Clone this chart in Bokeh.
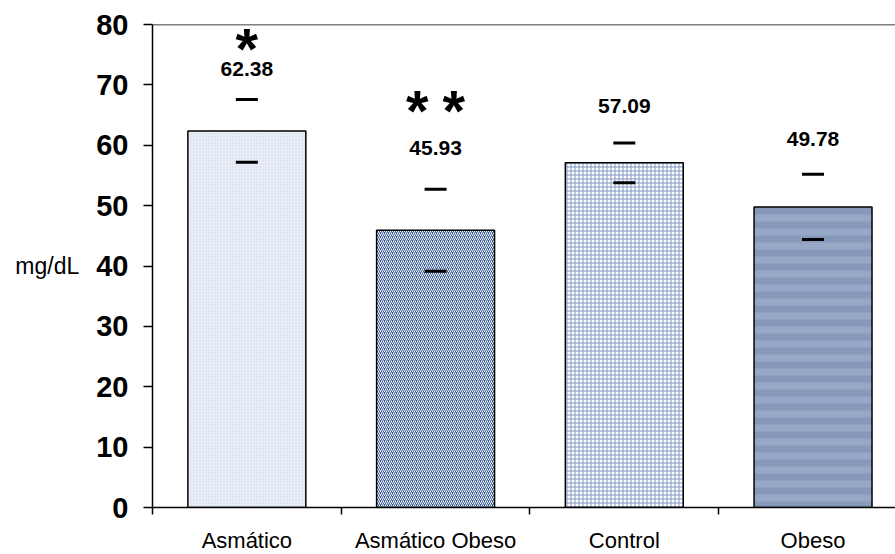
from bokeh.plotting import figure
from bokeh.models import FixedTicker, Span, Range1d, ColumnDataSource
from bokeh.embed import file_html
from bokeh.resources import INLINE
from bokeh.core.properties import value

# Mean HDL (mg/dL) per group, with standard deviation
groups = ["Asmático", "Asmático Obeso", "Control", "Obeso"]
means = [62.38, 45.93, 57.09, 49.78]
sds = [5.2, 6.8, 3.3, 5.4]
n_stars = [1, 2, 0, 0]
y_ticks = [0, 10, 20, 30, 40, 50, 60, 70, 80]

FONT = "Liberation Sans"

centers = [i + 0.5 for i in range(len(groups))]
upper = [m + s for m, s in zip(means, sds)]
lower = [m - s for m, s in zip(means, sds)]

# per-bar fill styling
bar_styles = [
    dict(fill_color="#eaeef6", hatch_pattern="dot", hatch_color="#cdd6e8", hatch_scale=3, hatch_weight=1),
    dict(fill_color="#35589a", hatch_pattern="right_diagonal_line", hatch_color="#ffffff", hatch_scale=4, hatch_weight=1),
    dict(fill_color="#ffffff", hatch_pattern="cross", hatch_color="#8097c2", hatch_scale=4, hatch_weight=1),
    dict(fill_color="#8699ba", hatch_pattern="horizontal_line", hatch_color="#97a8c6", hatch_scale=14, hatch_weight=7),
]
# label offsets above the upper error mark (px)
label_dy = [-30, -41, -37, -35]
star_dy = [-51, -79, 0, 0]
STAR_GAP = 0.097  # half-spacing between paired stars, in category units

p = figure(
    frame_width=743, frame_height=483,
    min_border_left=152, min_border_right=0, min_border_top=24, min_border_bottom=47,
    x_range=Range1d(0, 3.937), y_range=Range1d(0, 80),
    output_backend="svg", toolbar_location=None,
)
p.outline_line_color = None
p.grid.visible = False
p.background_fill_color = "white"
p.border_fill_color = "white"

for i in range(len(groups)):
    src = ColumnDataSource(dict(x=[centers[i]], top=[means[i]]))
    p.vbar(x="x", top="top", bottom=0, width=0.625, source=src,
           line_color="black", line_width=1.5, **bar_styles[i])

# error marks (mean +/- SD) drawn as short horizontal dashes
p.scatter(x=centers + centers, y=upper + lower, marker="dash", size=22,
          line_color="black", line_width=3)

# value labels
p.text(x=centers, y=upper, text=[f"{m:.2f}" for m in means], y_offset=label_dy,
       text_align="center", text_baseline="middle", text_font=value(FONT),
       text_font_style="bold", text_font_size="21px", text_color="black")

# significance marks
sx, sy, soff = [], [], []
for c, u, n, d in zip(centers, upper, n_stars, star_dy):
    for k in range(n):
        sx.append(c + (k - (n - 1) / 2) * 2 * STAR_GAP)
        sy.append(u)
        soff.append(d)
p.text(x=sx, y=sy, text=["*"] * len(sx), y_offset=soff,
       text_align="center", text_baseline="middle", text_font=value(FONT),
       text_font_style="bold", text_font_size="58px", text_color="black")

# top border of the plot area
p.add_layout(Span(location=80, dimension="width", line_color="black", line_width=1.5))

xa = p.xaxis[0]
xa.ticker = FixedTicker(ticks=centers, minor_ticks=[0, 1, 2, 3, 4])
xa.major_label_overrides = {c: g for c, g in zip(centers, groups)}
xa.major_tick_out = 0
xa.major_tick_in = 0
xa.minor_tick_out = 7
xa.minor_tick_in = 0
xa.axis_line_width = 1.5
xa.minor_tick_line_width = 1.5
xa.major_label_text_font = FONT
xa.major_label_text_font_size = "22px"
xa.major_label_text_color = "black"
xa.major_label_standoff = 13
xa.axis_line_color = "black"

ya = p.yaxis[0]
ya.ticker = FixedTicker(ticks=y_ticks, minor_ticks=[])
ya.major_tick_out = 9
ya.major_tick_in = 0
ya.axis_line_width = 1.5
ya.major_tick_line_width = 1.5
ya.major_label_text_font = FONT
ya.major_label_text_font_style = "bold"
ya.major_label_text_font_size = "29px"
ya.major_label_text_color = "black"
ya.major_label_standoff = 15
ya.axis_label = "mg/dL"
ya.axis_label_orientation = "horizontal"
ya.axis_label_text_font = FONT
ya.axis_label_text_font_style = "normal"
ya.axis_label_text_font_size = "23px"
ya.axis_label_text_color = "black"
ya.axis_label_standoff = 14
ya.axis_line_color = "black"

open("out.html", "w").write(file_html(p, INLINE))
